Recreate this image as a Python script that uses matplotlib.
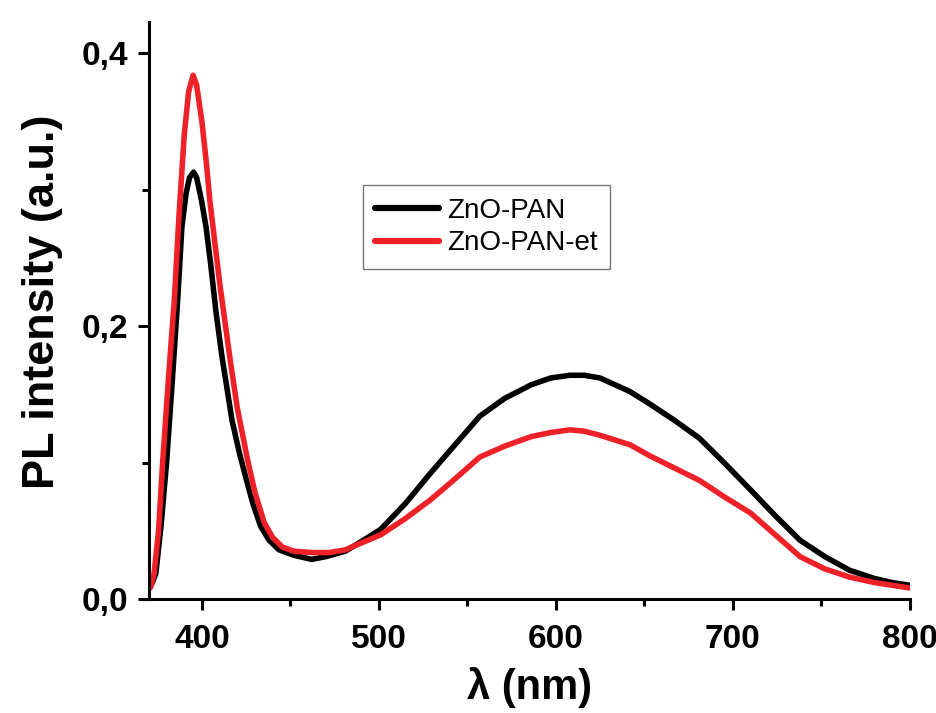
import matplotlib
matplotlib.use("Agg")
import matplotlib.pyplot as plt
from matplotlib.ticker import MultipleLocator, FuncFormatter

plt.rcParams["font.family"] = ["Liberation Sans", "DejaVu Sans"]

# ── data (wavelength nm, PL intensity a.u.) ──────────────────────────────────
wl_pan = [370, 372, 374, 377, 380, 383, 386.3, 388.7, 391, 393, 395.3, 397,
          399.8, 402.3, 405, 408, 411.3, 413.5, 417, 421, 425, 429, 433.3,
          438, 443.6, 452, 462, 470, 481, 490, 501, 515, 529, 543, 557, 571,
          586, 597, 608, 616, 625, 642, 653, 667, 681, 695, 710, 724, 738,
          752, 766, 780, 790, 800]
pl_pan = [0.008, 0.012, 0.019, 0.055, 0.0996, 0.155, 0.219, 0.273, 0.297,
          0.309, 0.313, 0.309, 0.292, 0.273, 0.245, 0.21, 0.178, 0.16, 0.131,
          0.108, 0.088, 0.069, 0.053, 0.043, 0.036, 0.032, 0.029, 0.031,
          0.035, 0.042, 0.051, 0.07, 0.092, 0.113, 0.134, 0.147, 0.157,
          0.162, 0.164, 0.164, 0.162, 0.152, 0.143, 0.131, 0.118, 0.100,
          0.080, 0.061, 0.043, 0.031, 0.021, 0.015, 0.012, 0.010]

wl_et = [370, 371.2, 373, 375.5, 377.8, 381, 384.4, 387, 390, 392.5, 395,
         397, 400, 402.5, 404.5, 410, 416, 420, 425.8, 430, 435.2, 440,
         445.5, 452, 462, 472, 481, 490, 501, 515, 529, 543, 557, 571, 586,
         597, 608, 616, 625, 642, 653, 667, 681, 695, 710, 724, 738, 752,
         766, 780, 790, 800]
pl_et = [0.007, 0.009, 0.019, 0.05, 0.10, 0.16, 0.219, 0.28, 0.34, 0.372,
         0.384, 0.377, 0.35, 0.32, 0.292, 0.232, 0.175, 0.14, 0.102, 0.078,
         0.056, 0.045, 0.038, 0.035, 0.034, 0.034, 0.036, 0.041, 0.047,
         0.059, 0.0725, 0.088, 0.104, 0.112, 0.119, 0.122, 0.124, 0.123,
         0.120, 0.113, 0.105, 0.096, 0.087, 0.075, 0.063, 0.047, 0.031,
         0.022, 0.016, 0.012, 0.010, 0.008]

fig = plt.figure(figsize=(9.36, 7.13), dpi=100)
ax = fig.add_axes([0.159, 0.160, 0.813, 0.809])

ax.plot(wl_pan, pl_pan, color="black", lw=4.0, label="ZnO-PAN",
        solid_joinstyle="round", solid_capstyle="round")
ax.plot(wl_et, pl_et, color="#ee2028", lw=4.0, label="ZnO-PAN-et",
        solid_joinstyle="round", solid_capstyle="round")

ax.set_xlim(370, 800)
ax.set_ylim(0, 0.423)
ax.spines["top"].set_visible(False)
ax.spines["right"].set_visible(False)
for s in ("left", "bottom"):
    ax.spines[s].set_linewidth(2.2)

ax.xaxis.set_major_locator(MultipleLocator(100))
ax.xaxis.set_minor_locator(MultipleLocator(50))
ax.yaxis.set_major_locator(MultipleLocator(0.2))
ax.yaxis.set_minor_locator(MultipleLocator(0.1))
ax.yaxis.set_major_formatter(FuncFormatter(lambda v, p: f"{v:.1f}".replace(".", ",")))

ax.tick_params(which="major", direction="out", length=8, width=2.2, labelsize=24)
ax.tick_params(which="minor", direction="out", length=5, width=2.2)
ax.tick_params(axis="x", which="major", pad=10)
ax.tick_params(axis="y", which="major", pad=7)
for lab in ax.get_xticklabels() + ax.get_yticklabels():
    lab.set_fontweight("bold")

ax.set_xlabel("λ (nm)", fontsize=30, fontweight="bold", labelpad=9)
ax.set_ylabel("PL intensity (a.u.)", fontsize=32.5, fontweight="bold")
ax.yaxis.set_label_coords(-0.113, 0.515)

leg = ax.legend(loc="upper left", bbox_to_anchor=(0.281, 0.7175),
                borderaxespad=0, fontsize=20, frameon=True, fancybox=False,
                handlelength=2.3, handletextpad=0.3, borderpad=0.45,
                labelspacing=0.25)
leg.get_frame().set_edgecolor("#555555")
leg.get_frame().set_linewidth(1.0)
for line in leg.get_lines():
    line.set_linewidth(4.5)

fig.savefig("out.png", dpi=100)
